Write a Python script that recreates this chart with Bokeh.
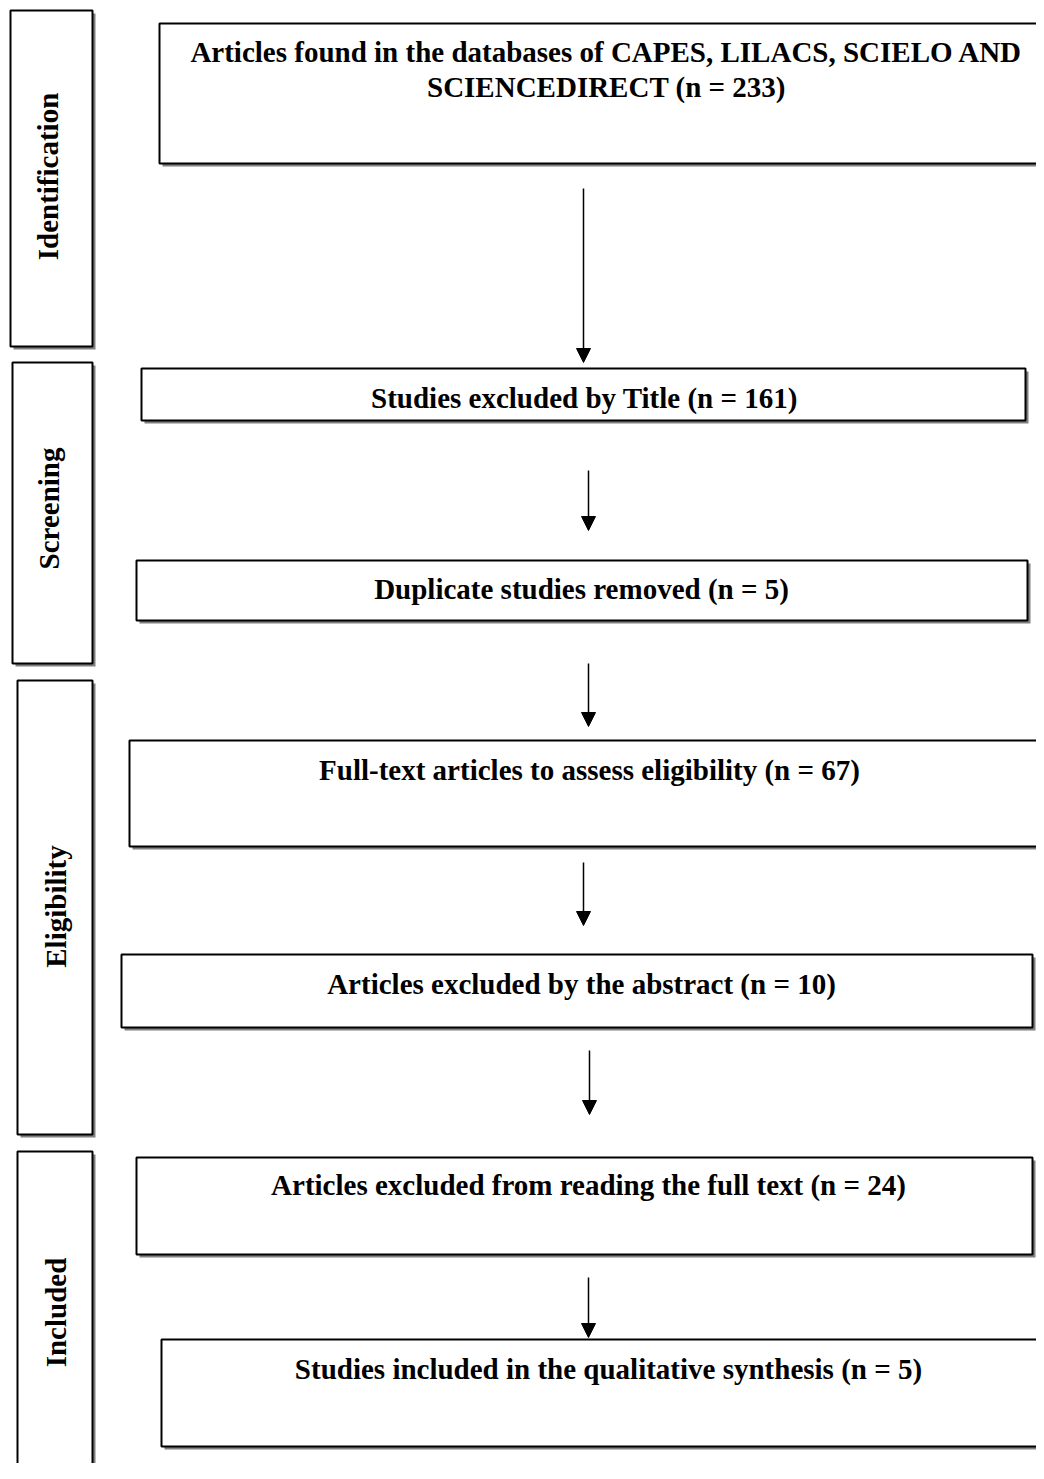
from bokeh.plotting import figure
from bokeh.models import Range1d, ColumnDataSource, Arrow, NormalHead
from bokeh.core.properties import value
from bokeh.embed import file_html
from bokeh.resources import INLINE
import math

# ---- content ----
stage_labels = ["Identification", "Screening", "Eligibility", "Included"]
box_labels = [
    "Articles found in the databases of CAPES, LILACS, SCIELO AND\nSCIENCEDIRECT",
    "Studies excluded by Title",
    "Duplicate studies removed",
    "Full-text articles to assess eligibility",
    "Articles excluded by the abstract",
    "Articles excluded from reading the full text",
    "Studies included in the qualitative synthesis",
]
box_counts = [233, 161, 5, 67, 10, 24, 5]

# ---- layout (pixel-like coordinates) ----
stage_left = [10, 12, 17, 17]
stage_right = [92, 92, 92, 92]
stage_top = [10, 362, 680, 1151]
stage_bottom = [346, 663, 1134, 1500]
stage_tx = [47, 48, 55, 55]
stage_ty = [176, 508, 906, 1312]

box_left = [159, 141, 136, 129, 121, 136, 161]
box_right = [1060, 1025, 1027, 1060, 1032, 1032, 1060]
box_top = [23, 368, 560, 740, 954, 1157, 1339]
box_bottom = [163, 420, 620, 846, 1027, 1254, 1446]
text_x = [606, 584, 581, 589, 581, 588, 608]
text_y = [69, 397, 588, 769, 983, 1184, 1368]

arrow_x = [583, 588, 588, 583, 589, 588]
arrow_y0 = [188, 470, 663, 862, 1050, 1277]
arrow_y1 = [362, 530, 726, 925, 1114, 1337]

W, H = 1036, 1463
p = figure(width=W, height=H, output_backend="svg", toolbar_location=None,
           x_range=Range1d(0, W), y_range=Range1d(H, 0),
           min_border=0, outline_line_color=None)
p.xaxis.visible = False
p.yaxis.visible = False
p.xgrid.visible = False
p.ygrid.visible = False

SH = 3
all_l = stage_left + box_left
all_r = stage_right + box_right
all_t = stage_top + box_top
all_b = stage_bottom + box_bottom

# shadows
p.quad(left=[v + SH for v in all_l], right=[v + SH for v in all_r],
       top=[v + SH for v in all_t], bottom=[v + SH for v in all_b],
       fill_color="#808080", line_color=None)
# boxes
p.quad(left=all_l, right=all_r, top=all_t, bottom=all_b,
       fill_color="white", line_color="black", line_width=2)

FONT = value("Liberation Serif")

texts = [f"{l} (n = {n})" for l, n in zip(box_labels, box_counts)]
p.text(x=text_x, y=text_y, text=texts, text_font=FONT, text_font_style="bold",
       text_font_size="29px", text_align="center", text_baseline="middle",
       text_color="black", text_line_height=1.1)

p.text(x=stage_tx, y=stage_ty, text=stage_labels, angle=math.pi / 2,
       text_font=FONT, text_font_style="bold", text_font_size="29px",
       text_align="center", text_baseline="middle", text_color="black")

src = ColumnDataSource(dict(x0=arrow_x, y0=arrow_y0, x1=arrow_x, y1=arrow_y1))
p.add_layout(Arrow(x_start="x0", y_start="y0", x_end="x1", y_end="y1",
                   source=src, line_width=1.5, line_color="black",
                   end=NormalHead(size=14, fill_color="black", line_color="black")))

open("out.html", "w").write(file_html(p, INLINE))
